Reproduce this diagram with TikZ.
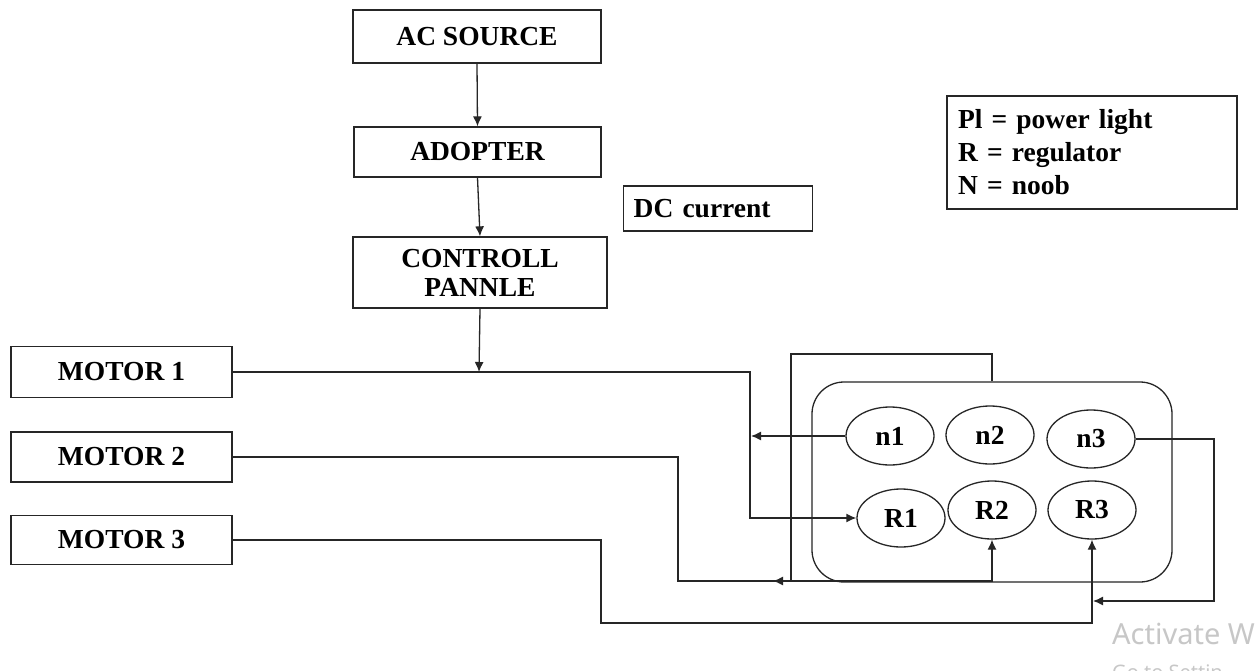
\documentclass[tikz,border=0pt]{standalone}
\usepackage{fontspec}
\setmainfont{Liberation Serif}
\newfontfamily\wmfont{Noto Sans}
\usetikzlibrary{arrows.meta,shapes.geometric}
\begin{document}
\begin{tikzpicture}[x=1pt,y=-1pt,
  every node/.style={font=\fontsize{27.5}{31}\selectfont\bfseries},
  box/.style={draw=black!85,line width=1.3pt,rectangle,inner sep=0pt,align=center},
  oval/.style={draw=black!85,line width=1.3pt,ellipse,inner sep=0pt,minimum width=88pt,minimum height=58pt},
  wire/.style={draw=black!85,line width=1.3pt},
  arr/.style={wire,-{Latex[length=10pt,width=9pt]}},
  wm/.style={font=\wmfont\fontsize{29}{34}\selectfont,text=black!22,inner sep=0pt}]
\useasboundingbox (0,0) rectangle (1258,671);
\fill[white] (0,0) rectangle (1258,671);

% top chain
\node[box,minimum width=248pt,minimum height=53pt] (ac) at (477,36.5) {AC SOURCE};
\node[box,minimum width=247pt,minimum height=50pt] (ad) at (477.5,152) {ADOPTER};
\node[box,minimum width=254pt,minimum height=71pt] (cp) at (480,272.5) {CONTROLL\\[-2pt]PANNLE};

% side boxes
\node[box,anchor=west,minimum width=189pt,minimum height=45pt,text width=169pt,inner xsep=10pt,align=left] (dc) at (623,208.5) {DC current};
\node[box,minimum width=290pt,minimum height=113pt,text width=268pt,inner xsep=11pt,align=left,
  font=\fontsize{27.5}{33}\selectfont\bfseries] (leg) at (1092,152.5) {Pl = power light\\R = regulator\\N = noob};

% motors
\node[box,minimum width=221pt,minimum height=51pt] (m1) at (121.5,372) {MOTOR 1};
\node[box,minimum width=221pt,minimum height=50pt] (m2) at (121.5,457) {MOTOR 2};
\node[box,minimum width=221pt,minimum height=49pt] (m3) at (121.5,540) {MOTOR 3};

% panel
\node[draw=black!85,line width=1.3pt,rounded corners=32pt,minimum width=360pt,minimum height=200pt,inner sep=0pt] (panel) at (992,482) {};
\node[oval] (n1) at (890,436) {n1};
\node[oval] (n2) at (990,435) {n2};
\node[oval] (n3) at (1091,439) {n3};
\node[oval] (r1) at (901,518) {R1};
\node[oval] (r2) at (992,510) {R2};
\node[oval] (r3) at (1092,510) {R3};

% junction points
\coordinate (j1) at (479,372);
\coordinate (t1) at (751,436);
\coordinate (t2) at (773,581);
\coordinate (t3) at (1093,601);

% connectors
\draw[arr] (ac.south) -- (ad.north);
\draw[arr] (ad.south) -- (cp.north);
\draw[arr] (cp.south) -- (j1);
\draw[arr] (m1.east) -- (750,372) -- (750,518) -- (r1.west);
\draw[arr] (n1.west) -- (t1);
\draw[arr] (panel.north) -- (992,354) -- (791,354) -- (791,581) -- (t2);
\draw[arr] (m2.east) -- (678,457) -- (678,581) -- (992,581) -- (r2.south);
\draw[arr] (m3.east) -- (601,540) -- (601,623) -- (1092,623) -- (r3.south);
\draw[arr] (n3.east) -- (1214,439) -- (1214,601) -- (t3);

% watermark (cut off at the picture's edge, as in the screenshot)
\node[wm,anchor=base west] (wm1) at (1112,644) {Activate W};
\node[wm,anchor=base west,font=\wmfont\fontsize{20}{24}\selectfont] (wm2) at (1112,679) {Go to Settin};
\end{tikzpicture}
\end{document}
